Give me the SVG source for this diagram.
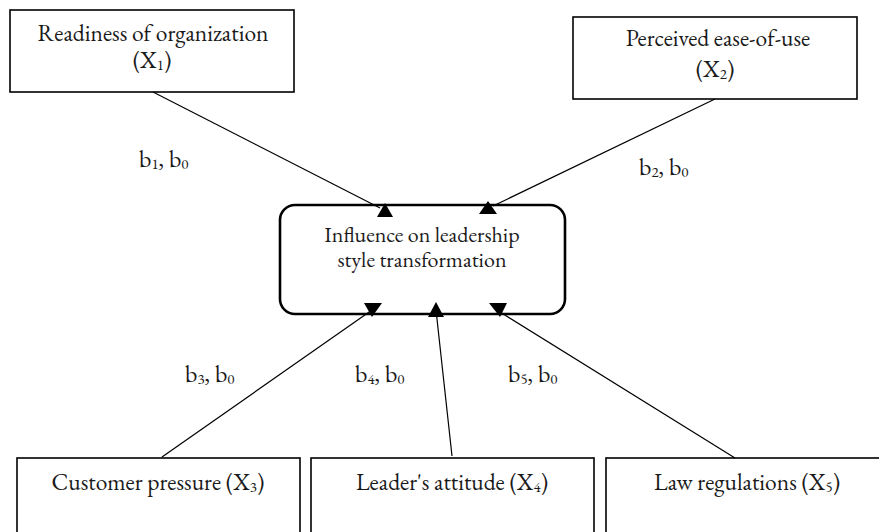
<svg xmlns="http://www.w3.org/2000/svg" width="879" height="532" viewBox="0 0 879 532">
<style>
.box{fill:#fff;stroke:#000;stroke-width:1.6}
.core{fill:#fff;stroke:#000;stroke-width:2.6}
.t{font-family:'EB Garamond','Liberation Serif',serif;font-size:23.5px;fill:#1a1a1a;text-anchor:middle}
.c{font-size:22px}
.lbl{font-family:'EB Garamond','Liberation Serif',serif;font-size:24px;fill:#1a1a1a}
.sub{font-size:15px}
.ln{stroke:#000;stroke-width:1.2;fill:none}
.ah{fill:#000;stroke:none}
</style>
<rect width="879" height="532" fill="#fff"/>
<g id="node-x1">
<rect class="box" x="10" y="10" width="284" height="82"/>
<text class="t" x="153" y="41">Readiness of organization</text>
<text class="t" x="152" y="68">(X<tspan class="sub" dy="2">1</tspan><tspan dy="-2">)</tspan></text>
</g>
<g id="node-x2">
<rect class="box" x="573" y="17" width="284" height="82"/>
<text class="t" x="718" y="46">Perceived ease-of-use</text>
<text class="t" x="715" y="77">(X<tspan class="sub" dy="2">2</tspan><tspan dy="-2">)</tspan></text>
</g>
<g id="node-core">
<rect class="core" x="280" y="205" width="285" height="109" rx="15" ry="15"/>
<text class="t c" x="422" y="242">Influence on leadership</text>
<text class="t c" x="422" y="267">style transformation</text>
</g>
<g id="node-x3">
<rect class="box" x="17" y="458" width="283" height="90"/>
<text class="t" x="158" y="490">Customer pressure (X<tspan class="sub" dy="2">3</tspan><tspan dy="-2">)</tspan></text>
</g>
<g id="node-x4">
<rect class="box" x="311" y="458" width="283" height="90"/>
<text class="t" x="452" y="490">Leader's attitude (X<tspan class="sub" dy="2">4</tspan><tspan dy="-2">)</tspan></text>
</g>
<g id="node-x5">
<rect class="box" x="606" y="458" width="283" height="90"/>
<text class="t" x="747" y="490">Law regulations (X<tspan class="sub" dy="2">5</tspan><tspan dy="-2">)</tspan></text>
</g>
<g id="connectors">
<line class="ln" x1="153" y1="92" x2="380" y2="208"/>
<line class="ln" x1="715" y1="99" x2="493" y2="206"/>
<line class="ln" x1="162" y1="457" x2="372" y2="310"/>
<line class="ln" x1="452" y1="456" x2="436" y2="310"/>
<line class="ln" x1="735" y1="458" x2="500" y2="312"/>
<polygon class="ah" points="385,203 377,217 393,217"/>
<polygon class="ah" points="488,201 479,214 497,214"/>
<polygon class="ah" points="364,303 382,303 372,317"/>
<polygon class="ah" points="436,302 428,317 444,317"/>
<polygon class="ah" points="489,303 507,303 500,317"/>
<text class="lbl" x="139" y="167">b<tspan class="sub" dy="2">1</tspan><tspan dy="-2">, b</tspan><tspan class="sub" dy="2">0</tspan></text>
<text class="lbl" x="639" y="175">b<tspan class="sub" dy="2">2</tspan><tspan dy="-2">, b</tspan><tspan class="sub" dy="2">0</tspan></text>
<text class="lbl" x="185" y="382">b<tspan class="sub" dy="2">3</tspan><tspan dy="-2">, b</tspan><tspan class="sub" dy="2">0</tspan></text>
<text class="lbl" x="355" y="382">b<tspan class="sub" dy="2">4</tspan><tspan dy="-2">, b</tspan><tspan class="sub" dy="2">0</tspan></text>
<text class="lbl" x="508" y="382">b<tspan class="sub" dy="2">5</tspan><tspan dy="-2">, b</tspan><tspan class="sub" dy="2">0</tspan></text>
</g>
</svg>
